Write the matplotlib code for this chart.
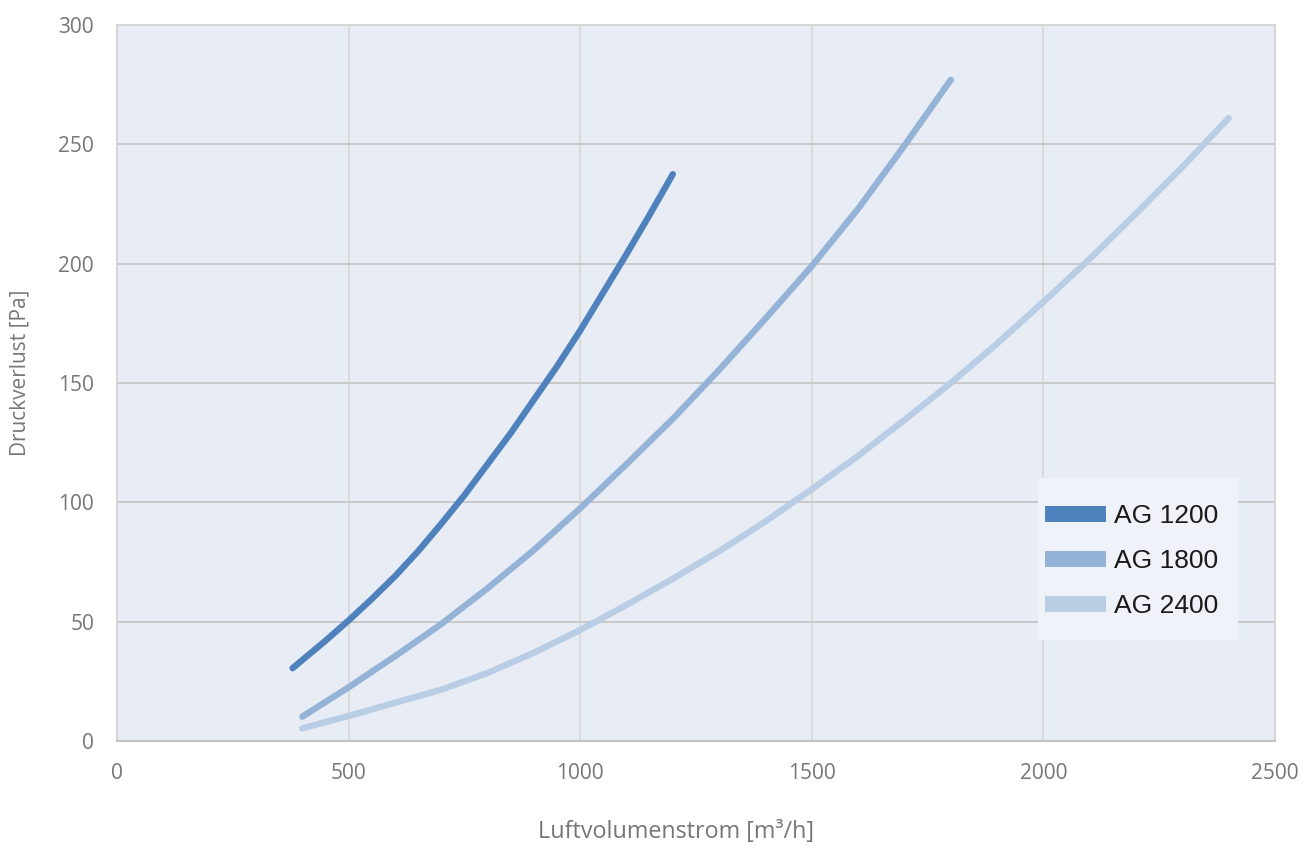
import matplotlib

matplotlib.use("Agg")
import matplotlib.pyplot as plt
from matplotlib.lines import Line2D
from matplotlib.patches import Rectangle

# values (x in m³/h, y in Pa)
ag1200_x = [379, 450, 500, 550, 600, 650, 700, 750, 800, 850, 900, 950, 1000,
            1050, 1100, 1150, 1200]
ag1200_y = [30.5, 42, 50.5, 59.5, 69, 79.5, 91, 103, 116, 129, 143, 157, 172,
            188, 204, 220.5, 237.5]

ag1800_x = [400, 500, 600, 700, 800, 900, 1000, 1100, 1200, 1300, 1400, 1500,
            1600, 1700, 1800]
ag1800_y = [10.2, 22.5, 35.5, 49, 64, 80, 97.5, 116, 135, 155.5, 177, 199,
            223, 249.5, 277]

ag2400_x = [400, 500, 600, 700, 800, 900, 1000, 1100, 1200, 1300, 1400, 1500,
            1600, 1700, 1800, 1900, 2000, 2100, 2200, 2300, 2400]
ag2400_y = [5.3, 10.5, 16, 21.5, 28.5, 37, 46.5, 57, 68, 79.5, 92, 105.5,
            119.5, 134.5, 150, 166.5, 184, 202, 221, 240.5, 261]

series_names = ["AG 1200", "AG 1800", "AG 2400"]
series_colors = ["#4F81BD", "#95B3D7", "#B9CDE5"]

x_ticks = [0, 500, 1000, 1500, 2000, 2500]
y_ticks = [0, 50, 100, 150, 200, 250, 300]

W, H = 1314, 848
fig = plt.figure(figsize=(W / 100, H / 100), dpi=100)
ax = fig.add_axes([117 / W, 1 - 741 / H, (1275 - 117) / W, (741 - 25) / H])
ax.set_facecolor("#E8EDF5")

tick_font = {"family": ["Open Sans", "DejaVu Sans"], "size": 15, "color": "#767676"}

for xs, ys, c in zip([ag1200_x, ag1800_x, ag2400_x],
                     [ag1200_y, ag1800_y, ag2400_y], series_colors):
    ax.plot(xs, ys, color=c, lw=4.6, solid_capstyle="round",
            solid_joinstyle="round", zorder=3)

ax.set_xlim(0, 2500)
ax.set_ylim(0, 300)
ax.set_xticks(x_ticks)
ax.set_yticks(y_ticks)
ax.set_xticklabels([str(v) for v in x_ticks], fontdict=tick_font)
ax.set_yticklabels([str(v) for v in y_ticks], fontdict=tick_font)
ax.tick_params(axis="both", length=0)
ax.tick_params(axis="x", pad=15.5)
ax.tick_params(axis="y", pad=16.5)

for v in x_ticks[1:-1]:
    ax.axvline(v, color="#DADADA", lw=1.4, zorder=1)
for v in y_ticks[1:-1]:
    ax.axhline(v, color="#C9C9C9", lw=1.4, zorder=1)

for side in ["left", "top", "right"]:
    ax.spines[side].set_color("#D0D0D0")
    ax.spines[side].set_linewidth(1.2)
ax.spines["bottom"].set_color("#C3C3C3")
ax.spines["bottom"].set_linewidth(1.6)

fig.text(676 / W, 1 - 832 / H, "Luftvolumenstrom [m³/h]", ha="center", va="center",
         fontsize=16.8, color="#767676", family=["Open Sans", "DejaVu Sans"])
fig.text(20 / W, 1 - 373 / H, "Druckverlust [Pa]", ha="center", va="center",
         rotation=90, fontsize=15, color="#767676", family=["Open Sans", "DejaVu Sans"])

# legend box
fig.patches.append(Rectangle((1038 / W, 1 - 640 / H), 200 / W, 162 / H,
                             transform=fig.transFigure, facecolor="#EFF3F9",
                             edgecolor="none", zorder=4))
handles = [Line2D([0], [0], color=c, lw=11.5, solid_capstyle="butt") for c in series_colors]
leg = fig.legend(handles, series_names, loc="upper left",
                 bbox_to_anchor=(1045 / W, 1 - 504 / H), frameon=False,
                 borderpad=0, borderaxespad=0, handlelength=2.3,
                 handletextpad=0.3, labelspacing=0.8,
                 prop={"family": ["Liberation Sans", "DejaVu Sans"], "size": 19})
leg.set_zorder(5)
for t in leg.get_texts():
    t.set_color("#1A1A1A")

fig.savefig("out.png", dpi=100)
